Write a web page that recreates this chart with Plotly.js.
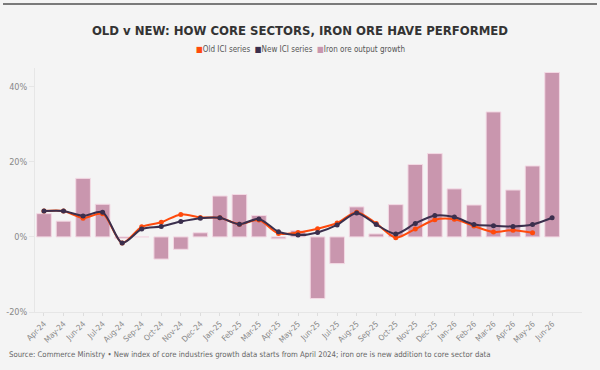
<!DOCTYPE html>
<html>
<head>
<meta charset="utf-8">
<script src="https://cdn.plot.ly/plotly-3.0.1.min.js"></script>
<style>
  html, body { margin: 0; padding: 0; background: #ffffff; }
  #chart { width: 600px; height: 370px; }
</style>
</head>
<body>
<div id="chart"></div>
<script>
// Monthly growth, % year on year
const months = ["Apr-24","May-24","Jun-24","Jul-24","Aug-24","Sep-24","Oct-24","Nov-24","Dec-24",
  "Jan-25","Feb-25","Mar-25","Apr-25","May-25","Jun-25","Jul-25","Aug-25","Sep-25","Oct-25",
  "Nov-25","Dec-25","Jan-26","Feb-26","Mar-26","Apr-26","May-26","Jun-26"];

const ironOre = [6.2, 4.2, 15.6, 8.7, -0.4, 0, -5.9, -3.3, 1.1,
  10.9, 11.3, 5.7, -0.5, 1.7, -16.4, -7.1, 8.0, 0.8, 8.6,
  19.3, 22.2, 12.8, 8.5, 33.3, 12.5, 18.9, 43.8];

const oldICI = [6.9, 6.9, 5.0, 6.2, -1.6, 2.7, 3.9, 6.0, 5.2,
  5.1, 3.4, 4.5, 0.9, 1.2, 2.2, 3.7, 6.6, 3.6, -0.2,
  2.1, 4.6, 4.7, 2.9, 1.3, 1.8, 1.1, null];

const newICI = [6.9, 6.9, 5.6, 6.6, -1.6, 2.1, 2.8, 4.1, 5.0,
  5.1, 3.4, 4.8, 1.4, 0.5, 1.2, 3.2, 6.4, 3.3, 0.8,
  3.6, 5.7, 5.3, 3.3, 3.0, 2.8, 3.3, 5.1];

const yTicks = [-20, 0, 20, 40];
const yTickText = ["-20%", "0%", "20%", "40%"];

const seriesNames = ["Old ICI series", "New ICI series", "Iron ore output growth"];

const ORANGE = "#ff4a0c";
const DARK = "#3b2f4d";
const PINK = "#c996ae";
const FONT = "'DejaVu Sans Condensed', 'DejaVu Sans', sans-serif";

const traces = [
  { type: "bar", x: months, y: ironOre, name: seriesNames[2],
    width: 0.75, marker: { color: PINK, line: { color: "#f3d9e4", width: 1 } } },
  { type: "scatter", mode: "lines+markers", x: months, y: oldICI, name: seriesNames[0],
    line: { color: ORANGE, width: 2, shape: "spline", smoothing: 0.8 }, marker: { color: ORANGE, size: 5 } },
  { type: "scatter", mode: "lines+markers", x: months, y: newICI, name: seriesNames[1],
    line: { color: DARK, width: 2, shape: "spline", smoothing: 0.8 }, marker: { color: DARK, size: 5 } }
];

// compact legend row: coloured square + series name
const swatch = (c) => `<span style="color:${c}">\u25A0</span>`;
const legendText = [ORANGE, DARK, PINK]
  .map((c, i) => `${swatch(c)}${seriesNames[i]}`)
  .join("  ");

const layout = {
  width: 600, height: 370,
  paper_bgcolor: "#f4f4f4", plot_bgcolor: "#f4f4f4",
  margin: { l: 35, r: 18, t: 68, b: 58 },
  barmode: "overlay",
  showlegend: false,
  font: { family: FONT, color: "#555" },
  title: {
    text: "<b>OLD v NEW: HOW CORE SECTORS, IRON ORE HAVE PERFORMED</b>",
    font: { family: FONT, size: 13, color: "#333" },
    xref: "container", x: 0.5, xanchor: "center",
    yref: "container", y: 0.918, yanchor: "middle"
  },
  xaxis: {
    type: "category", range: [-0.46, 27.53],
    tickangle: -45, tickfont: { size: 8, color: "#888" },
    showgrid: false, zeroline: false,
    showline: true, linecolor: "#e6e6e6", linewidth: 1,
    ticks: "outside", ticklen: 3, tickcolor: "#dddddd"
  },
  yaxis: {
    range: [-20, 45], tickvals: yTicks, ticktext: yTickText,
    tickfont: { size: 9, color: "#888" },
    showgrid: false, zeroline: false,
    showline: true, linecolor: "#e6e6e6", linewidth: 1,
    ticks: "outside", ticklen: 5, tickcolor: "#e6e6e6"
  },
  shapes: [
    { type: "line", xref: "paper", yref: "paper", x0: -0.0585, x1: 1.0274, y0: 1.2626, y1: 1.2626,
      line: { color: "#7a7a7a", width: 2 } }
  ],
  annotations: [
    { xref: "paper", yref: "paper", x: 0.5 - 0.0155, y: 1.074, xanchor: "center", yanchor: "middle",
      showarrow: false, text: legendText, font: { family: FONT, size: 8, color: "#555" } },
    { xref: "paper", yref: "paper", x: -0.0512, y: -0.1736, xanchor: "left", yanchor: "middle",
      showarrow: false, align: "left",
      text: "Source: Commerce Ministry \u2022 New index of core industries growth data starts from April 2024; iron ore is new addition to core sector data",
      font: { family: FONT, size: 7.75, color: "#666" } }
  ]
};

Plotly.newPlot("chart", traces, layout, { displayModeBar: false, staticPlot: true });
</script>
</body>
</html>
